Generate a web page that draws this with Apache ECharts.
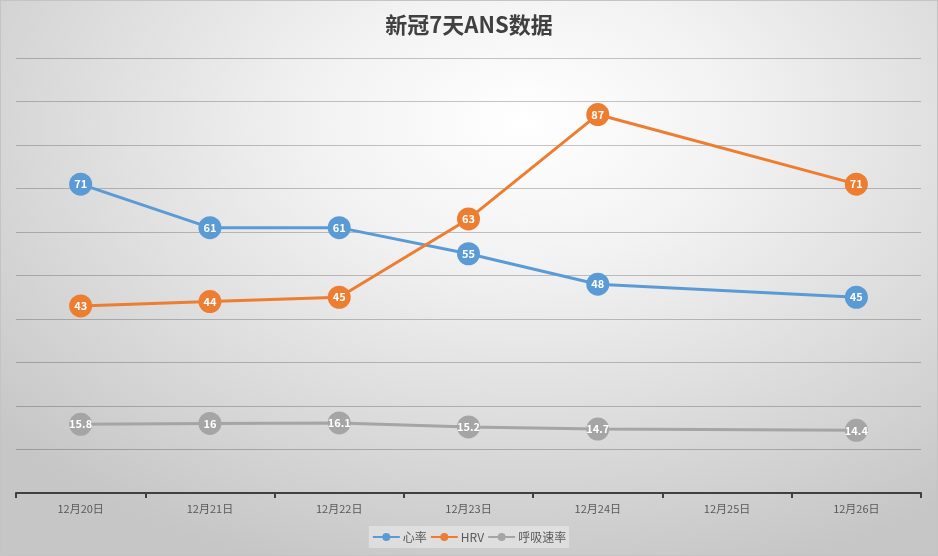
<!DOCTYPE html>
<html>
<head>
<meta charset="utf-8">
<script src="https://cdn.jsdelivr.net/npm/echarts@6/dist/echarts.min.js"></script>
<style>
  html, body { margin: 0; padding: 0; }
  #chart {
    width: 938px;
    height: 556px;
    box-sizing: border-box;
    border: 1px solid #c4c4c4;
    background: radial-gradient(ellipse 75% 85% at 56% 22%, #ffffff 0%, #f2f2f2 30%, #dcdcdc 65%, #c6c6c6 100%);
  }
</style>
</head>
<body>
<div id="chart"></div>
<script>
const days = ['12月20日', '12月21日', '12月22日', '12月23日', '12月24日', '12月25日', '12月26日'];
const heartRate = [71, 61, 61, 55, 48, null, 45];
const hrv = [43, 44, 45, 63, 87, null, 71];
const breathRate = [15.8, 16, 16.1, 15.2, 14.7, null, 14.4];

const fontFamily = '"Noto Sans CJK SC", "Noto Sans", sans-serif';

const makeSeries = (name, data, color) => ({
  name,
  type: 'line',
  data,
  connectNulls: true,
  symbol: 'circle',
  symbolSize: 23,
  lineStyle: { width: 3, color },
  itemStyle: { color },
  label: {
    show: true,
    position: 'inside',
    color: '#ffffff',
    fontSize: 11,
    fontWeight: 'bold',
    fontFamily,
  },
  emphasis: { disabled: true },
});

const chart = echarts.init(document.getElementById('chart'));
chart.setOption({
  animation: false,
  backgroundColor: 'transparent',
  title: {
    text: '新冠7天ANS数据',
    left: 'center',
    top: 8,
    textStyle: {
      color: '#404040',
      fontSize: 22,
      fontWeight: 'bold',
      fontFamily,
    },
  },
  legend: {
    bottom: 7,
    left: 'center',
    itemWidth: 27,
    itemHeight: 10,
    itemGap: 3,
    padding: [5, 3],
    backgroundColor: 'rgba(255,255,255,0.35)',
    textStyle: { color: '#595959', fontSize: 12, fontFamily, padding: [0, 0, 0, -2] },
    data: ['心率', 'HRV', '呼吸速率'],
  },
  grid: {
    left: 15,
    right: 16,
    top: 57,
    bottom: 62,
    containLabel: false,
  },
  xAxis: {
    type: 'category',
    data: days,
    boundaryGap: true,
    axisLine: { lineStyle: { color: '#404040', width: 2 } },
    axisTick: { show: true, length: 5, lineStyle: { color: '#404040', width: 2 } },
    axisLabel: { color: '#595959', fontSize: 11, margin: 10, fontFamily },
  },
  yAxis: {
    type: 'value',
    min: 0,
    max: 100,
    interval: 10,
    axisLabel: { show: false },
    axisLine: { show: false },
    axisTick: { show: false },
    splitLine: { lineStyle: { color: 'rgba(0,0,0,0.22)', width: 1 } },
  },
  series: [
    makeSeries('心率', heartRate, '#5b9bd5'),
    makeSeries('HRV', hrv, '#ed7d31'),
    makeSeries('呼吸速率', breathRate, '#a5a5a5'),
  ],
});
</script>
</body>
</html>
